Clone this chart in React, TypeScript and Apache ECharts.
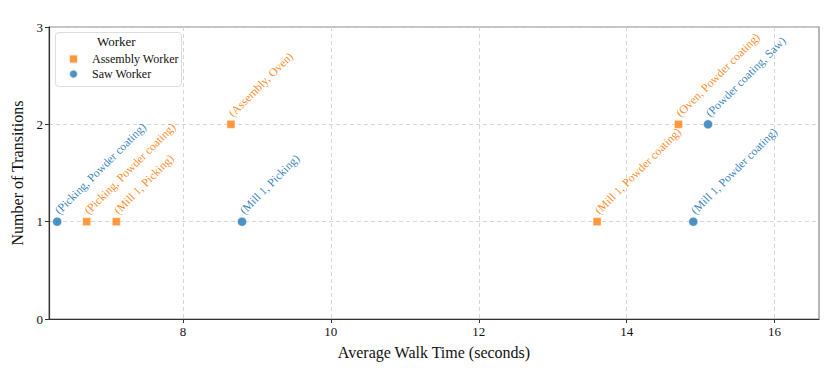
import React, { useEffect, useRef } from "react";
import * as echarts from "echarts";

const sawX = [6.3, 8.8, 14.9, 15.1];
const sawY = [1, 1, 1, 2];
const sawLabels = ["(Picking, Powder coating)", "(Mill 1, Picking)", "(Mill 1, Powder coating)", "(Powder coating, Saw)"];

const asmX = [6.7, 7.1, 8.65, 13.6, 14.7];
const asmY = [1, 1, 2, 1, 2];
const asmLabels = ["(Picking, Powder coating)", "(Mill 1, Picking)", "(Assembly, Oven)", "(Mill 1, Powder coating)", "(Oven, Powder coating)"];

const xTicks = [8, 10, 12, 14, 16];

const BLUE = "#1f77b4";
const ORANGE = "#ff7f0e";
const FONT = "Liberation Serif";

export default function App() {
  const ref = useRef<HTMLDivElement>(null);
  useEffect(() => {
    if (!ref.current) return;
    const chart = echarts.init(ref.current, undefined, { renderer: "svg" });
    const mk = (xs: number[], ys: number[], labels: string[]) =>
      xs.map((x, i) => ({ value: [x, ys[i]], name: labels[i] }));
    const labelCfg = (color: string, size: number) => ({
      show: true,
      formatter: "{b}",
      rotate: 45,
      position: [size / 2 + 4, size / 2 - 5],
      align: "left",
      verticalAlign: "bottom",
      color,
      opacity: 0.92,
      fontFamily: FONT,
      fontSize: 11.8,
    });
    chart.setOption({
      animation: false,
      textStyle: { fontFamily: FONT },
      grid: { left: 49, right: 15, top: 27, bottom: 56, show: true, borderColor: "#888", borderWidth: 1.2 },
      legend: {
        orient: "vertical",
        left: 63,
        top: 48,
        itemWidth: 9,
        itemHeight: 9,
        itemGap: 3,
        textStyle: { fontFamily: FONT, fontSize: 12, color: "#111", padding: [0, 0, 0, 9] },
        data: [
          { name: "Assembly Worker", icon: "rect" },
          { name: "Saw Worker", icon: "circle" },
        ],
      },
      graphic: [
        {
          type: "rect",
          left: 55,
          top: 32,
          shape: { width: 126, height: 54, r: 3 },
          style: { fill: "rgba(255,255,255,0.8)", stroke: "#ddd", lineWidth: 1 },
          z: 0,
        },
        {
          type: "text",
          left: 97,
          top: 35,
          style: { text: "Worker", font: `13px ${FONT}`, fill: "#111" },
        },
      ],
      xAxis: {
        type: "value",
        min: 6.19,
        max: 16.6,
        name: "Average Walk Time (seconds)",
        nameLocation: "middle",
        nameGap: 25,
        nameTextStyle: { fontFamily: FONT, fontSize: 16, color: "#111" },
        axisLine: { show: true, lineStyle: { color: "#333", width: 1.2 } },
        axisTick: { show: true, length: 4, lineStyle: { color: "#333" }, customValues: xTicks },
        axisLabel: { fontFamily: FONT, fontSize: 13, color: "#111", margin: 6, customValues: xTicks },
        splitLine: { show: true, lineStyle: { color: "#ccc", type: [4, 3], width: 0.8 } },
      },
      yAxis: {
        type: "value",
        min: 0,
        max: 3,
        interval: 1,
        name: "Number of Transitions",
        nameLocation: "middle",
        nameGap: 18,
        nameTextStyle: { fontFamily: FONT, fontSize: 16, color: "#111" },
        axisLine: { show: true, lineStyle: { color: "#333", width: 1.2 } },
        axisTick: { show: true, length: 4, lineStyle: { color: "#333" } },
        axisLabel: { fontFamily: FONT, fontSize: 13, color: "#111", margin: 6 },
        splitLine: { show: true, lineStyle: { color: "#ccc", type: [4, 3], width: 0.8 } },
      },
      series: [
        {
          name: "Assembly Worker",
          type: "scatter",
          symbol: "rect",
          symbolSize: 8,
          itemStyle: { color: ORANGE, borderColor: "#fff", borderWidth: 0.5 },
          label: labelCfg(ORANGE, 8),
          data: mk(asmX, asmY, asmLabels),
          z: 3,
        },
        {
          name: "Saw Worker",
          type: "scatter",
          symbol: "circle",
          symbolSize: 9,
          itemStyle: { color: BLUE, borderColor: "#fff", borderWidth: 0.5 },
          label: labelCfg(BLUE, 9),
          data: mk(sawX, sawY, sawLabels),
          z: 3,
        },
      ],
    });
    return () => chart.dispose();
  }, []);
  return <div ref={ref} style={{ width: 834, height: 375, margin: -8 }} />;
}
